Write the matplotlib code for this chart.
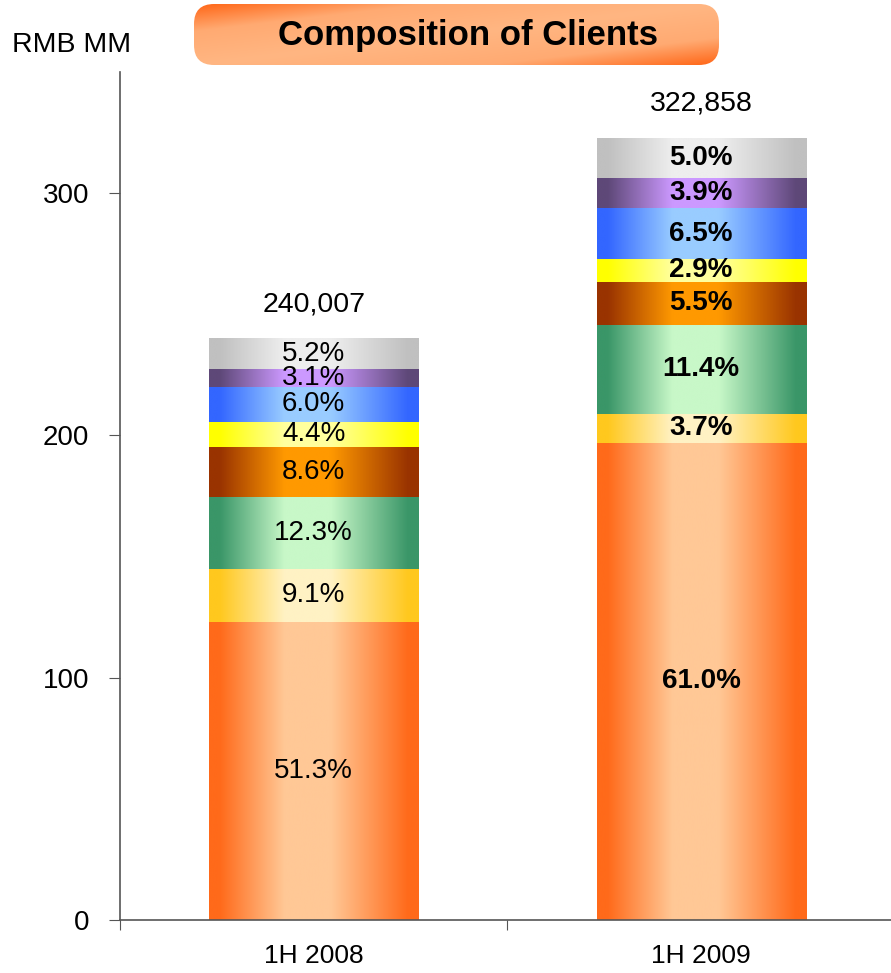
import numpy as np
import matplotlib.pyplot as plt
from matplotlib.colors import LinearSegmentedColormap
from matplotlib.patches import FancyBboxPatch

plt.rcParams['font.family'] = ['Liberation Sans', 'DejaVu Sans']

periods = ["1H 2008", "1H 2009"]
totals = [240.007, 322.858]          # RMB bn (labelled in RMB MM)
total_labels = ["240,007", "322,858"]
# client share per period, bottom to top
shares_2008 = [51.3, 9.1, 12.3, 8.6, 4.4, 6.0, 3.1, 5.2]
shares_2009 = [61.0, 3.7, 11.4, 5.5, 2.9, 6.5, 3.9, 5.0]

# (edge colour, centre highlight) for each segment, bottom to top
seg_colors = [
    ("#FF6A1A", "#FFC896"),
    ("#FFC81E", "#FFF2C4"),
    ("#3A9668", "#C8F8C8"),
    ("#993300", "#FF9900"),
    ("#FFFF00", "#FFFF9E"),
    ("#3366FF", "#99CCFF"),
    ("#5E4878", "#CC99FF"),
    ("#C0C0C0", "#EEEEEE"),
]

fig = plt.figure(figsize=(8.91, 9.73), dpi=100)
ax = fig.add_axes([120 / 891, 1 - 920 / 973, 771 / 891, 848 / 973])

x = np.arange(len(periods))
width = 0.54
grad = np.linspace(0, 1, 256).reshape(1, -1)

for i, shares in enumerate([shares_2008, shares_2009]):
    values = [totals[i] * s / 100 for s in shares]
    bottoms = np.concatenate([[0], np.cumsum(values)[:-1]])
    bars = ax.bar([x[i]] * len(values), values, width, bottom=bottoms,
                  color="none", edgecolor="none")
    for bar, (edge, light), s in zip(bars, seg_colors, shares):
        cmap = LinearSegmentedColormap.from_list(
            "seg", [(0, edge), (0.05, edge), (0.36, light), (0.58, light),
                    (0.95, edge), (1, edge)])
        x0, y0 = bar.get_x(), bar.get_y()
        ax.imshow(grad, cmap=cmap, aspect="auto", interpolation="bicubic",
                  extent=[x0, x0 + bar.get_width(), y0, y0 + bar.get_height()],
                  zorder=2)
        ax.text(x0 + bar.get_width() / 2, y0 + bar.get_height() / 2,
                f"{s:.1f}%", ha="center", va="center", fontsize=20,
                fontweight="bold" if i == 1 else "normal", zorder=3)
    ax.text(x[i], totals[i] + 14, total_labels[i], ha="center", va="center",
            fontsize=20.5)

ax.set_xlim(-0.5, 1.49)
ax.set_ylim(0, 350)
ax.set_yticks([0, 100, 200, 300])
ax.set_xticks([-0.5, 0.5])
ax.set_xticklabels([])
ax.set_xticks(x, minor=True)
ax.set_xticklabels(periods, minor=True)
ax.tick_params(axis="x", which="minor", length=0, pad=17, labelsize=19)
ax.tick_params(axis="x", which="major", length=7, color="#555555", direction="out")
ax.tick_params(axis="y", length=8, color="#555555", labelsize=20, pad=14)
for side in ["top", "right"]:
    ax.spines[side].set_visible(False)
for side in ["left", "bottom"]:
    ax.spines[side].set_color("#555555")
    ax.spines[side].set_linewidth(1.2)

fig.text(12 / 891, 1 - 45 / 973, "RMB MM", fontsize=20.5, va="center", ha="left")

# rounded title banner with a diagonal orange gradient
bw, bh = 527, 63
tax = fig.add_axes([193 / 891, 1 - 66 / 973, bw / 891, bh / 973])
tax.set_xlim(0, bw)
tax.set_ylim(0, bh)
tax.axis("off")
box = FancyBboxPatch((1, 1), bw - 2, bh - 2, boxstyle="round,pad=0,rounding_size=20",
                     facecolor="none", edgecolor="none")
tax.add_patch(box)
u, v = np.meshgrid(np.linspace(0, 1, 300), np.linspace(0, 1, 60))
diag = np.abs(u - v)
title_cmap = LinearSegmentedColormap.from_list(
    "title", [(0, "#FFB682"), (0.55, "#FFAA72"), (1, "#FF6414")])
img = tax.imshow(diag, cmap=title_cmap, origin="lower", aspect="auto",
                 extent=[0, bw, 0, bh], interpolation="bicubic")
img.set_clip_path(box)
tax.text(bw / 2 + 12, bh / 2 - 1, "Composition of Clients", ha="center",
         va="center", fontsize=25, fontweight="bold")

fig.savefig("out.png", dpi=100)
